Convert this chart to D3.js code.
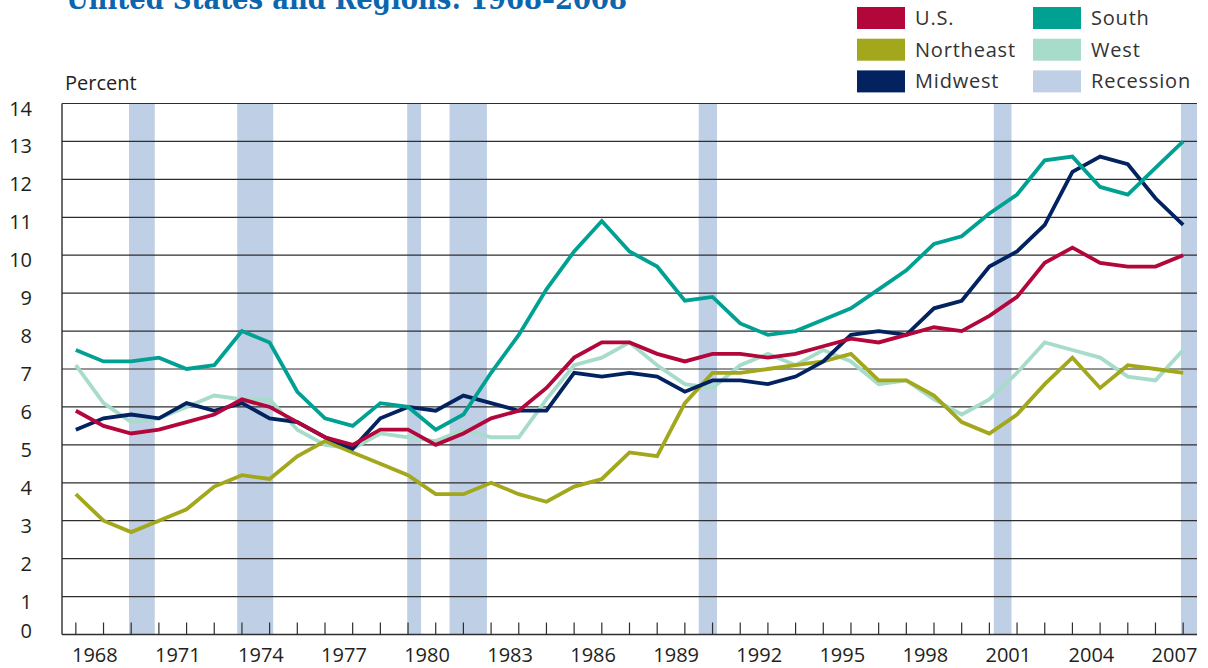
<!DOCTYPE html>
<html>
<head>
<meta charset="utf-8">
<script src="https://cdn.jsdelivr.net/npm/d3@7"></script>
<style>
  body { margin: 0; background: #fff; }
  text { font-family: "Open Sans", "DejaVu Sans", sans-serif; fill: #231f20; }
</style>
</head>
<body>
<div id="chart"></div>
<script>
// years on the x axis
var years = d3.range(1968, 2009);
var tickLabels = [1968, 1971, 1974, 1977, 1980, 1983, 1986, 1989, 1992, 1995, 1998, 2001, 2004, 2007];
var yTicks = d3.range(0, 15);

// rental vacancy rate, percent
var us = [5.9, 5.5, 5.3, 5.4, 5.6, 5.8, 6.2, 6.0, 5.6, 5.2,
          5.0, 5.4, 5.4, 5.0, 5.3, 5.7, 5.9, 6.5, 7.3, 7.7,
          7.7, 7.4, 7.2, 7.4, 7.4, 7.3, 7.4, 7.6, 7.8, 7.7,
          7.9, 8.1, 8.0, 8.4, 8.9, 9.8, 10.2, 9.8, 9.7, 9.7, 10.0];
var northeast = [3.7, 3.0, 2.7, 3.0, 3.3, 3.9, 4.2, 4.1, 4.7, 5.1,
                 4.8, 4.5, 4.2, 3.7, 3.7, 4.0, 3.7, 3.5, 3.9, 4.1,
                 4.8, 4.7, 6.1, 6.9, 6.9, 7.0, 7.1, 7.2, 7.4, 6.7,
                 6.7, 6.3, 5.6, 5.3, 5.8, 6.6, 7.3, 6.5, 7.1, 7.0, 6.9];
var midwest = [5.4, 5.7, 5.8, 5.7, 6.1, 5.9, 6.1, 5.7, 5.6, 5.2,
               4.9, 5.7, 6.0, 5.9, 6.3, 6.1, 5.9, 5.9, 6.9, 6.8,
               6.9, 6.8, 6.4, 6.7, 6.7, 6.6, 6.8, 7.2, 7.9, 8.0,
               7.9, 8.6, 8.8, 9.7, 10.1, 10.8, 12.2, 12.6, 12.4, 11.5, 10.8];
var south = [7.5, 7.2, 7.2, 7.3, 7.0, 7.1, 8.0, 7.7, 6.4, 5.7,
             5.5, 6.1, 6.0, 5.4, 5.8, 6.9, 7.9, 9.1, 10.1, 10.9,
             10.1, 9.7, 8.8, 8.9, 8.2, 7.9, 8.0, 8.3, 8.6, 9.1,
             9.6, 10.3, 10.5, 11.1, 11.6, 12.5, 12.6, 11.8, 11.6, 12.3, 13.0];
var west = [7.1, 6.1, 5.6, 5.7, 6.0, 6.3, 6.2, 6.2, 5.4, 5.0,
            4.9, 5.3, 5.2, 5.1, 5.4, 5.2, 5.2, 6.2, 7.1, 7.3,
            7.7, 7.1, 6.6, 6.5, 7.1, 7.4, 7.1, 7.5, 7.2, 6.6,
            6.7, 6.2, 5.8, 6.2, 6.9, 7.7, 7.5, 7.3, 6.8, 6.7, 7.5];

// recession periods (start, end) in decimal years
var recessions = [[1969.92, 1970.85], [1973.83, 1975.13], [1979.97, 1980.47],
                  [1981.5, 1982.85], [1990.5, 1991.16], [2001.16, 2001.8], [2007.92, 2008.5]];

var seriesNames = ["West", "Northeast", "Midwest", "South", "U.S."];
var seriesData = [west, northeast, midwest, south, us];
var colors = {"U.S.": "#b3063a", "Northeast": "#a2a71b", "Midwest": "#022260",
              "South": "#00a092", "West": "#a7dbca", "Recession": "#bfcfe5"};

var width = 1208, height = 668;

var svg = d3.select("#chart")
    .append("svg")
    .attr("width", width)
    .attr("height", height);

var x = d3.scaleLinear()
    .domain([1967.5, 2008.5])
    .range([62, 1197]);

var y = d3.scaleLinear()
    .domain([0, 14])
    .range([634.5, 103.5]);

// title, cut off at the top like the source
svg.append("text")
    .attr("x", 66)
    .attr("y", 9)
    .attr("textLength", 561)
    .attr("lengthAdjust", "spacingAndGlyphs")
    .style("font-family", "'DejaVu Serif', serif")
    .style("font-weight", "bold")
    .style("font-size", "29px")
    .style("fill", "#0b66ad")
    .text("United States and Regions: 1968\u20132008");

svg.append("text")
    .attr("x", 65)
    .attr("y", 90)
    .style("font-size", "20px")
    .text("Percent");

// recession bars
svg.selectAll(".rec")
    .data(recessions)
    .enter()
    .append("rect")
    .attr("x", function (d) { return x(d[0]); })
    .attr("y", y(14))
    .attr("width", function (d) { return x(d[1]) - x(d[0]); })
    .attr("height", y(0) - y(14))
    .attr("fill", colors.Recession);

// gridlines
svg.selectAll(".grid")
    .data(yTicks.slice(1))
    .enter()
    .append("line")
    .attr("x1", x(1967.5))
    .attr("x2", x(2008.5))
    .attr("y1", function (d) { return y(d); })
    .attr("y2", function (d) { return y(d); })
    .attr("stroke", "#2e2e2e")
    .attr("stroke-width", 1.2);

// y labels
svg.selectAll(".ylab")
    .data(yTicks)
    .enter()
    .append("text")
    .attr("x", 32)
    .attr("y", function (d) { return d === 0 ? y(d) + 3.5 : y(d) + 12; })
    .attr("text-anchor", "end")
    .style("font-size", "20px")
    .text(function (d) { return d; });

// axes
svg.append("line")
    .attr("x1", x(1967.5)).attr("x2", x(1967.5))
    .attr("y1", y(14)).attr("y2", y(0))
    .attr("stroke", "#2e2e2e")
    .attr("stroke-width", 1.4);
svg.append("line")
    .attr("x1", x(1967.5)).attr("x2", x(2008.5))
    .attr("y1", y(0)).attr("y2", y(0))
    .attr("stroke", "#2e2e2e")
    .attr("stroke-width", 1.6);

svg.selectAll(".xtick")
    .data(years)
    .enter()
    .append("line")
    .attr("x1", function (d) { return x(d); })
    .attr("x2", function (d) { return x(d); })
    .attr("y1", y(0))
    .attr("y2", y(0) - 12)
    .attr("stroke", "#2e2e2e")
    .attr("stroke-width", 1.2);

svg.selectAll(".xlab")
    .data(tickLabels)
    .enter()
    .append("text")
    .attr("x", function (d) { return x(d) + 19; })
    .attr("y", 662)
    .attr("text-anchor", "middle")
    .style("font-size", "20px")
    .text(function (d) { return d; });

// lines
var line = d3.line()
    .x(function (d, i) { return x(years[i]); })
    .y(function (d) { return y(d); });

svg.selectAll(".series")
    .data(seriesData)
    .enter()
    .append("path")
    .attr("d", line)
    .attr("fill", "none")
    .attr("stroke", function (d, i) { return colors[seriesNames[i]]; })
    .attr("stroke-width", 3.8);

// legend
var legendItems = [
    {name: "U.S.", col: 0, row: 0}, {name: "Northeast", col: 0, row: 1},
    {name: "Midwest", col: 0, row: 2}, {name: "South", col: 1, row: 0},
    {name: "West", col: 1, row: 1}, {name: "Recession", col: 1, row: 2}
];
var legend = svg.selectAll(".leg")
    .data(legendItems)
    .enter()
    .append("g")
    .attr("transform", function (d) {
        return "translate(" + (857 + d.col * 176) + "," + (18 + d.row * 31.7) + ")";
    });
legend.append("rect")
    .attr("x", 0)
    .attr("y", -11)
    .attr("width", 48)
    .attr("height", 22)
    .attr("fill", function (d) { return colors[d.name]; });
legend.append("text")
    .attr("x", 58)
    .attr("y", 7)
    .style("font-size", "20px")
    .style("letter-spacing", "0.8px")
    .style("fill", "#333")
    .text(function (d) { return d.name; });
</script>
</body>
</html>
